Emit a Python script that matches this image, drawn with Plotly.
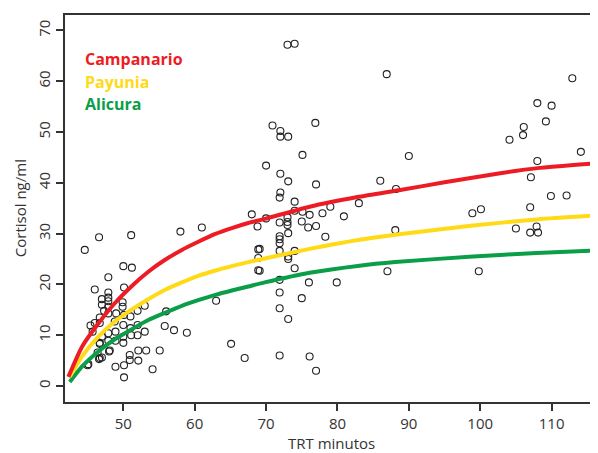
import plotly.graph_objects as go

# Scatter observations (TRT minutos, Cortisol ng/ml)
trt = [112.9, 108.0, 110.0, 109.2, 106.1, 106.0, 104.1, 114.1, 108.0, 107.1, 109.9, 112.1,
       98.9, 100.1, 107.0, 105.0, 107.9, 107.0, 108.1, 99.8,
       86.9, 90.0, 86.0, 88.2, 83.0, 88.1, 87.0,
       73.0, 74.0, 70.9, 72.0, 72.0, 73.1, 76.9, 75.1, 70.0, 72.0, 73.1, 77.0, 72.0, 71.9,
       74.0, 79.0, 75.1, 74.0, 76.1, 77.9, 80.9, 70.0,
       73.0, 73.0, 73.0, 71.9, 75.0, 73.1, 75.9, 77.0, 78.3, 71.9, 71.9, 71.9, 71.9, 74.0,
       73.1, 73.1, 69.1, 69.1, 74.0, 71.9, 76.0, 79.9, 71.9, 75.0, 71.9, 73.1, 71.9, 76.1, 77.0,
       68.0, 68.8, 61.0, 58.0, 68.9, 68.9, 68.9, 63.0, 58.9, 65.1, 67.0,
       44.6, 46.6, 51.1, 50.0, 51.2,
       47.9, 46.0, 50.1, 47.9, 47.9, 47.9, 47.0, 47.0, 49.9, 49.9, 47.9, 47.3, 47.9, 49.0,
       50.1, 51.0, 52.0, 53.0, 46.7, 46.7, 46.0, 45.4, 45.7, 56.0, 55.8, 57.1,
       48.8, 50.0, 51.0, 52.0, 53.0, 47.9, 47.0, 48.9, 50.0, 51.1, 52.0, 47.9, 46.7, 48.9, 50.0,
       48.0, 46.4, 46.7, 50.9, 52.1, 53.2, 55.1, 50.9, 52.1, 45.1, 48.9, 50.1, 54.1, 50.1,
       47.0, 46.6, 45.0, 46.7, 48.1]
cortisol = [60.6, 55.7, 55.2, 52.1, 51.0, 49.4, 48.5, 46.1, 44.3, 41.1, 37.4, 37.5,
            34.0, 34.8, 35.2, 31.0, 31.4, 30.2, 30.2, 22.6,
            61.4, 45.3, 40.4, 38.8, 36.0, 30.7, 22.6,
            67.2, 67.4, 51.3, 50.2, 49.1, 49.1, 51.8, 45.5, 43.4, 41.8, 40.3, 39.7, 38.1, 37.1,
            36.3, 35.3, 34.3, 34.5, 33.7, 34.0, 33.4, 33.0,
            33.2, 32.3, 31.7, 32.2, 32.4, 30.1, 31.2, 31.5, 29.4, 29.5, 28.9, 28.1, 26.6, 26.6,
            25.5, 25.0, 27.0, 22.7, 23.2, 20.9, 20.4, 20.4, 18.4, 17.3, 15.3, 13.2, 6.0, 5.8, 3.0,
            33.8, 31.4, 31.2, 30.4, 26.9, 25.2, 22.8, 16.8, 10.5, 8.3, 5.5,
            26.8, 29.3, 29.7, 23.6, 23.3,
            21.4, 19.0, 19.4, 18.4, 17.4, 16.7, 17.1, 16.0, 16.5, 15.6, 15.6, 14.8, 14.3, 14.3,
            14.0, 13.7, 14.8, 15.8, 13.5, 12.4, 12.4, 11.9, 10.7, 14.7, 11.8, 11.0,
            12.7, 12.0, 11.4, 12.0, 10.7, 10.4, 9.7, 10.7, 9.7, 10.0, 10.0, 8.9, 8.5, 8.9, 8.5,
            6.8, 6.6, 5.5, 6.1, 7.0, 7.0, 7.0, 5.1, 5.0, 4.3, 3.8, 4.1, 3.3, 1.7,
            5.6, 5.3, 4.1, 8.3, 7.0]

# Fitted curves
campanario_x = [42.3, 44.2, 46.5, 48.8, 51.2, 53.5, 55.8, 58.2, 60.5, 62.8, 65.2, 67.5, 69.8,
                76.1, 82.8, 88.8, 95.0, 102.8, 108.0, 116.5]
campanario_y = [1.8, 7.7, 12.3, 16.3, 19.7, 22.5, 24.8, 26.8, 28.4, 29.9, 31.1, 32.1, 32.9,
                35.3, 37.2, 38.6, 40.1, 41.9, 42.9, 43.9]
payunia_x = [42.5, 44.2, 46.5, 48.8, 51.2, 53.5, 55.8, 58.2, 60.5, 62.8, 65.2, 67.5, 69.8,
             76.1, 83.1, 88.1, 99.0, 107.9, 116.5]
payunia_y = [1.8, 5.8, 9.7, 12.7, 15.1, 17.1, 18.9, 20.4, 21.7, 22.7, 23.6, 24.4, 25.1,
             27.0, 28.8, 29.8, 31.6, 32.8, 33.6]
alicura_x = [42.5, 44.2, 46.5, 48.8, 51.2, 53.5, 55.8, 58.2, 60.5, 62.8, 65.2, 67.5, 69.8,
             76.1, 83.1, 88.1, 99.0, 107.9, 116.5]
alicura_y = [0.8, 3.8, 6.8, 9.2, 11.2, 13.0, 14.4, 15.8, 16.9, 17.9, 18.8, 19.6, 20.4,
             22.3, 23.7, 24.4, 25.5, 26.2, 26.7]

x_ticks = [50, 60, 70, 80, 90, 100, 110]
y_ticks = [0, 10, 20, 30, 40, 50, 60, 70]

RED = "#ED1C24"
YELLOW = "#FFDA17"
GREEN = "#0B9E48"
AXIS = "#333333"
FONT = "Open Sans"

fig = go.Figure()
fig.add_trace(go.Scatter(x=trt, y=cortisol, mode="markers",
                         marker=dict(symbol="circle-open", size=7, color="#222222",
                                     line=dict(width=1.1, color="#222222")),
                         hoverinfo="skip", showlegend=False))
for xs, ys, col in [(alicura_x, alicura_y, GREEN), (payunia_x, payunia_y, YELLOW),
                    (campanario_x, campanario_y, RED)]:
    fig.add_trace(go.Scatter(x=xs, y=ys, mode="lines",
                             line=dict(color=col, width=4, shape="spline", smoothing=0.6),
                             showlegend=False, hoverinfo="skip"))

labels = [("Campanario", RED, 0.886), ("Payunia", YELLOW, 0.827), ("Alicura", GREEN, 0.770)]
for txt, col, yy in labels:
    fig.add_annotation(text=f"<b>{txt}</b>", x=0.034, y=yy, xref="paper", yref="paper",
                       xanchor="left", yanchor="middle", showarrow=False,
                       font=dict(family=FONT, size=16, color=col))

# Axis titles
fig.add_annotation(text="TRT minutos", x=0.5, y=-0.106, xref="paper", yref="paper",
                   xanchor="center", yanchor="middle", showarrow=False,
                   font=dict(family=FONT, size=15, color=AXIS))
fig.add_annotation(text="Cortisol ng/ml", x=-0.085, y=0.5, xref="paper", yref="paper",
                   xanchor="center", yanchor="middle", showarrow=False, textangle=-90,
                   font=dict(family=FONT, size=15, color=AXIS))

# The page body adds an 8px offset, so the figure is sized to fit the window
fig.update_layout(
    width=590, height=445,
    margin=dict(l=57, r=0, t=7, b=51),
    paper_bgcolor="white", plot_bgcolor="white",
    font=dict(family=FONT, size=15, color=AXIS),
    xaxis=dict(range=[41.83, 116.5], tickvals=x_ticks, ticks="outside", ticklen=7,
               tickwidth=2, tickcolor=AXIS, showline=True, linewidth=2, linecolor=AXIS,
               mirror=True, showgrid=False, zeroline=False, automargin=False),
    yaxis=dict(range=[-3.15, 73.05], tickvals=y_ticks, ticks="outside", ticklen=7,
               tickwidth=2, tickcolor=AXIS, showline=True, linewidth=2, linecolor=AXIS,
               mirror=False, showgrid=False, zeroline=False, tickangle=-90, automargin=False),
)

fig.write_html("out.html")
